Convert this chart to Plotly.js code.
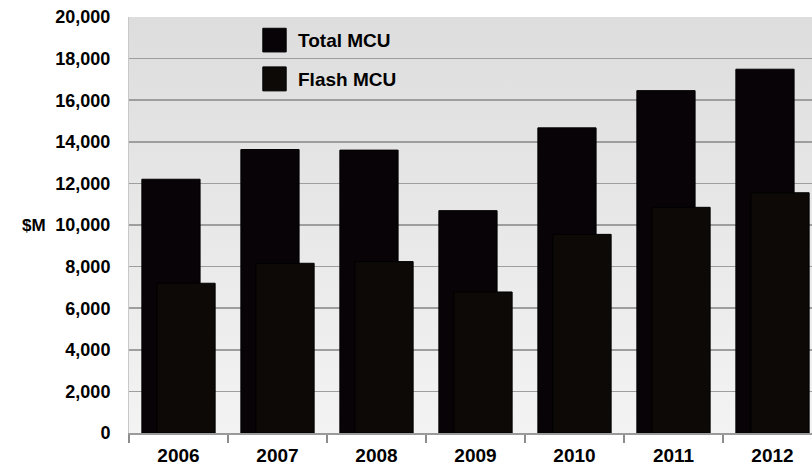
<!DOCTYPE html>
<html>
<head>
<meta charset="utf-8">
<script src="https://cdn.plot.ly/plotly-3.0.1.min.js"></script>
<style>
  html, body { margin: 0; padding: 0; overflow: hidden; background: #ffffff; }
  #chart { width: 822px; height: 471px; }
</style>
</head>
<body>
<div id="chart"></div>
<script>
// MCU market size, $M
const years = ['2006', '2007', '2008', '2009', '2010', '2011', '2012'];
const totalMcu = [12200, 13630, 13600, 10690, 14670, 16460, 17490];
const flashMcu = [7200, 8160, 8240, 6780, 9550, 10850, 11550];
const seriesNames = ['Total MCU', 'Flash MCU'];
const yTicks = [0, 2000, 4000, 6000, 8000, 10000, 12000, 14000, 16000, 18000, 20000];

const FONT = '"Liberation Sans", Arial, sans-serif';

// soft vertical gradient behind the plot area
const bgSvg = '<svg xmlns="http://www.w3.org/2000/svg" width="10" height="100" preserveAspectRatio="none">' +
  '<defs><linearGradient id="g" x1="0" y1="0" x2="0" y2="1">' +
  '<stop offset="0" stop-color="#dddddd"/><stop offset="1" stop-color="#f3f3f3"/>' +
  '</linearGradient></defs><rect width="10" height="100" fill="url(#g)"/></svg>';
const bgUri = 'data:image/svg+xml;base64,' + btoa(bgSvg);

const barWidth = 0.588;

const traces = [
  {
    type: 'bar', name: seriesNames[0], x: years, y: totalMcu,
    width: barWidth, offset: -0.37,
    marker: { color: '#080307', line: { color: '#000000', width: 1 } },
    showlegend: false, hoverinfo: 'x+y'
  },
  {
    type: 'bar', name: seriesNames[1], x: years, y: flashMcu,
    width: barWidth, offset: -0.218,
    marker: { color: '#0c0907', line: { color: '#000000', width: 1 } },
    showlegend: false, hoverinfo: 'x+y'
  }
];

// hand-built legend keys (large square swatches)
const keyX0 = 0.1931, keyX1 = 0.2268, labelX = 0.2403;
const keyRows = [
  { y0: 0.9160, y1: 0.9729, ty: 0.9441, fill: '#080307' },
  { y0: 0.8224, y1: 0.8800, ty: 0.8505, fill: '#0c0907' }
];

const shapes = keyRows.map(r => ({
  type: 'rect', xref: 'paper', yref: 'paper',
  x0: keyX0, x1: keyX1, y0: r.y0, y1: r.y1,
  fillcolor: r.fill, line: { color: '#000000', width: 1 }, layer: 'above'
}));

const annotations = keyRows.map((r, i) => ({
  xref: 'paper', yref: 'paper', x: labelX, y: r.ty,
  xanchor: 'left', yanchor: 'middle', showarrow: false,
  text: seriesNames[i],
  font: { family: FONT, size: 19, color: '#000000', weight: 'bold' }
}));

// unit label left of the value axis
annotations.push({
  xref: 'paper', yref: 'paper', x: -0.137, y: 0.5,
  xanchor: 'center', yanchor: 'middle', showarrow: false,
  text: '$M',
  font: { family: FONT, size: 17, color: '#000000', weight: 'bold' }
});

const layout = {
  width: 822, height: 471,
  margin: { l: 129, r: 0, t: 17, b: 38 },
  paper_bgcolor: '#ffffff',
  plot_bgcolor: 'rgba(0,0,0,0)',
  barmode: 'overlay',
  showlegend: false,
  images: [{
    source: bgUri, xref: 'paper', yref: 'paper',
    x: 0, y: 1, sizex: 1, sizey: 1, sizing: 'stretch',
    xanchor: 'left', yanchor: 'top', layer: 'below'
  }],
  xaxis: {
    type: 'category',
    tickson: 'boundaries',
    ticks: 'outside', ticklen: 8, tickwidth: 1.5, tickcolor: '#8c8c8c',
    showline: true, linecolor: '#9a9a9a', linewidth: 2,
    showgrid: false,
    tickfont: { family: FONT, size: 19, color: '#000000', weight: 'bold' },
    ticklabelstandoff: 4,
    fixedrange: true
  },
  yaxis: {
    range: [0, 20000],
    tickvals: yTicks,
    ticktext: yTicks.map(v => v.toLocaleString('en-US')),
    showgrid: true, gridcolor: '#9e9e9e', gridwidth: 1.6,
    zeroline: false,
    showline: true, linecolor: '#c8c8c8', linewidth: 1,
    ticks: '',
    ticklabelstandoff: 14,
    tickfont: { family: FONT, size: 18, color: '#000000', weight: 'bold' },
    fixedrange: true
  },
  shapes: shapes,
  annotations: annotations
};

Plotly.newPlot('chart', traces, layout, { displayModeBar: false, staticPlot: true });
</script>
</body>
</html>
